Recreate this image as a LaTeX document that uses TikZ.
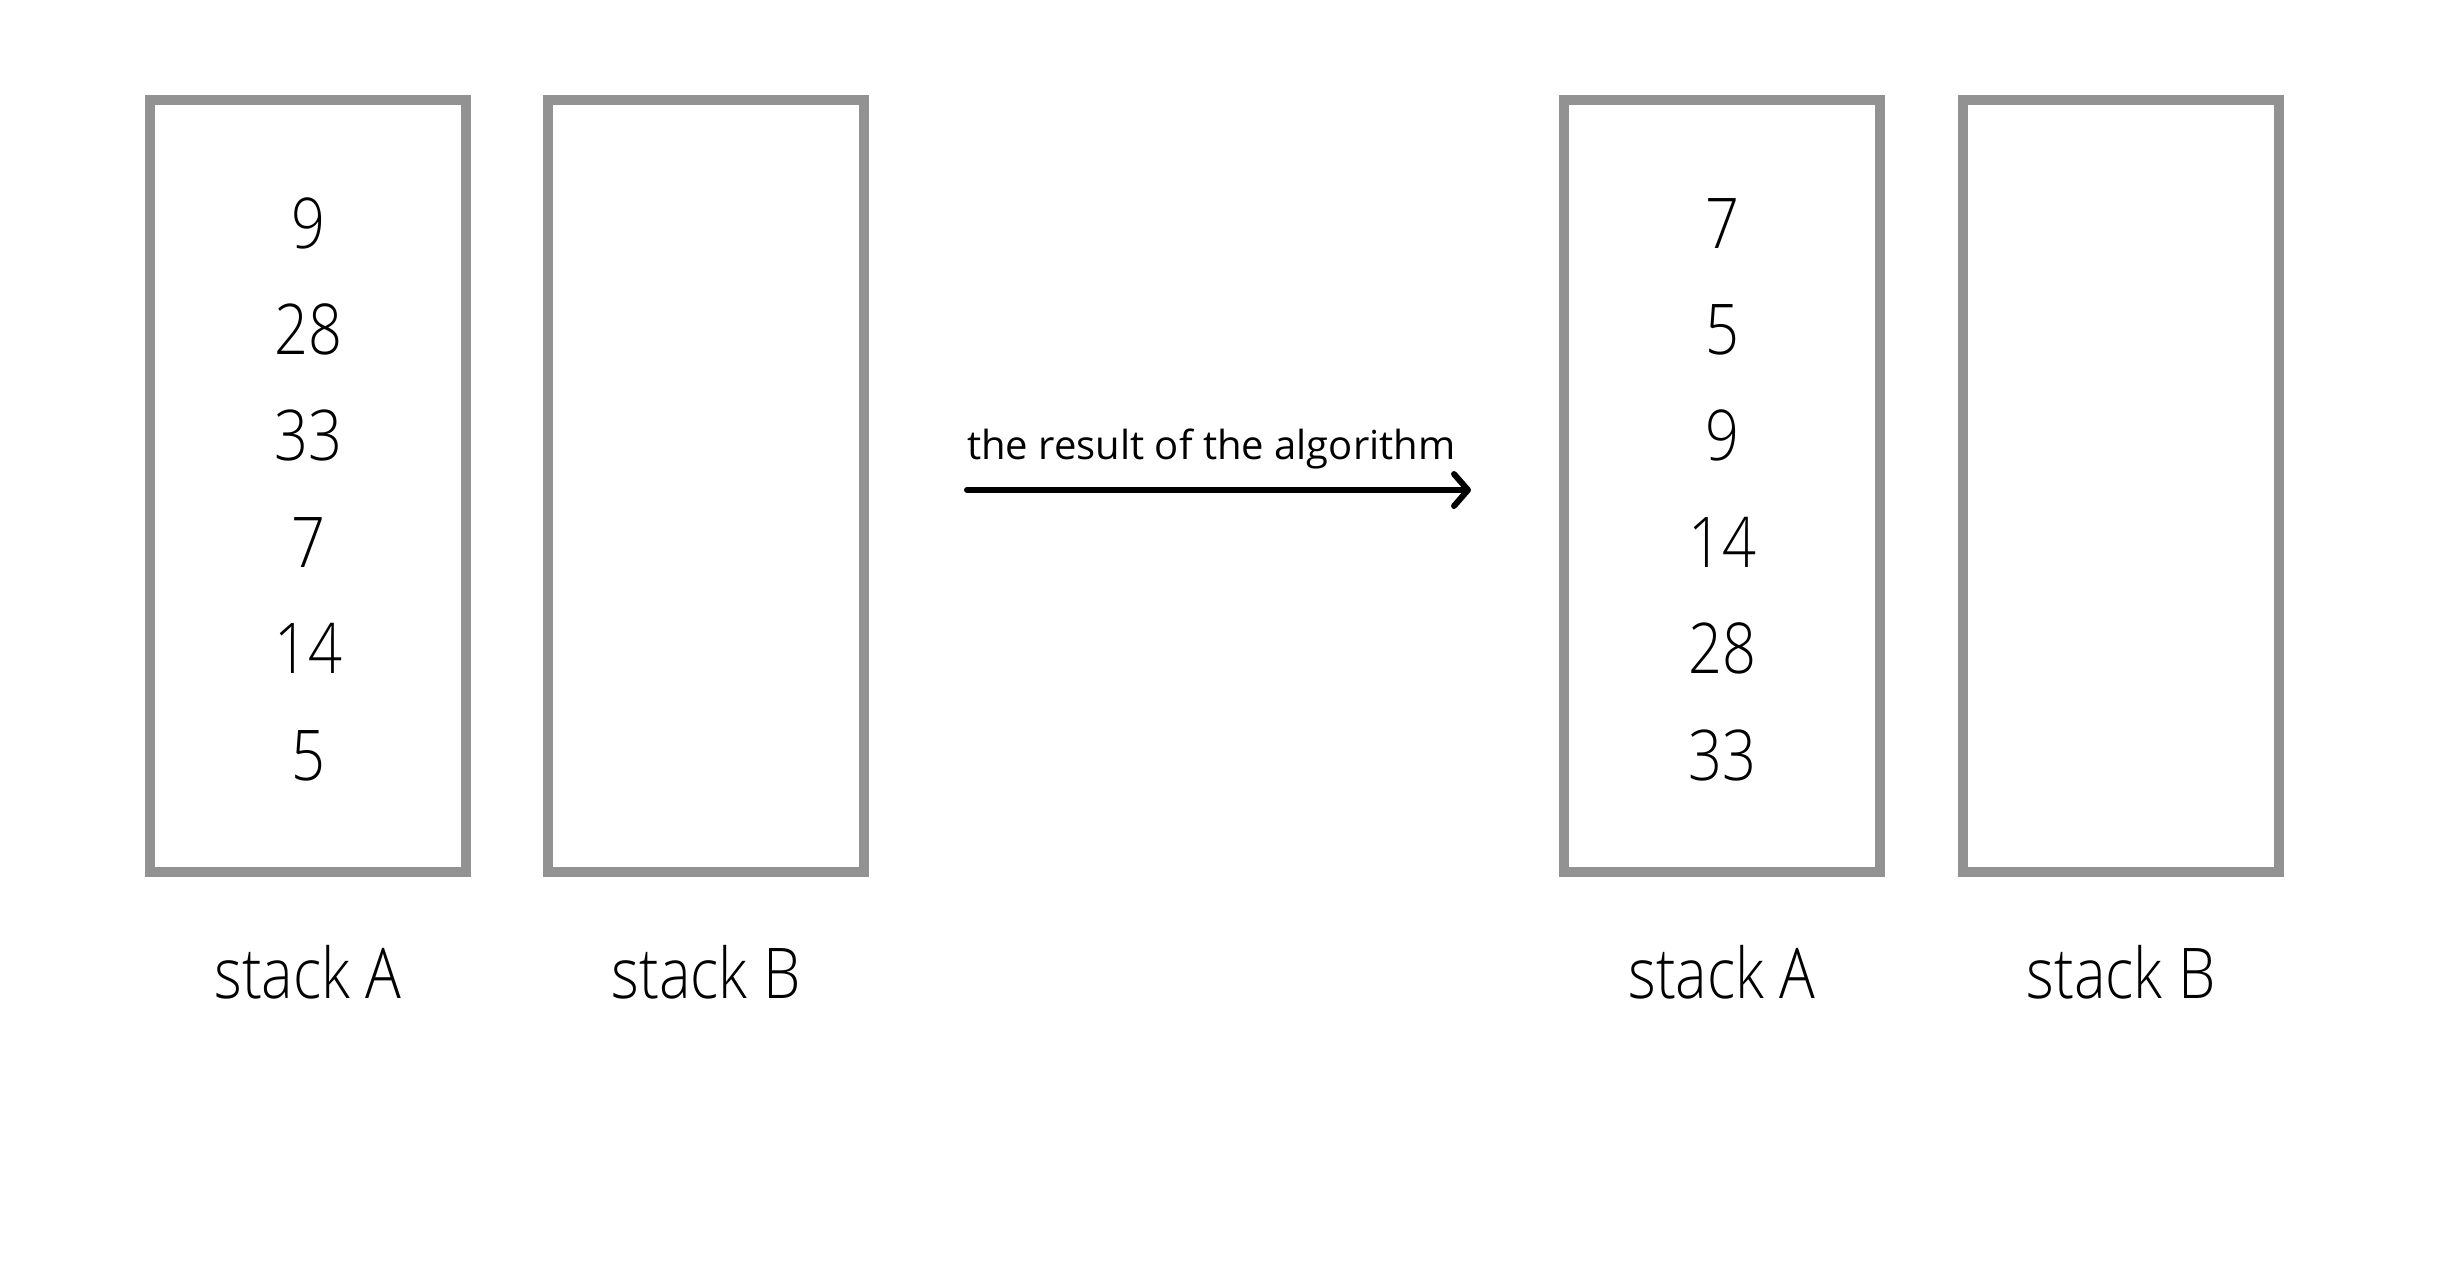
\documentclass[tikz,border=0pt]{standalone}
\usepackage{fontspec}
\setmainfont{Open Sans}
\newfontfamily\lightfont{Open Sans Light}[FakeStretch=0.85]
\usetikzlibrary{arrows.meta}
\definecolor{boxgray}{HTML}{929292}
\tikzset{
  stackbox/.style={draw=boxgray, line width=10pt, minimum width=316pt, minimum height=772pt, inner sep=0pt},
  num/.style={anchor=base, font=\lightfont\fontsize{70}{80}\selectfont, inner sep=0pt},
  lbl/.style={anchor=base, font=\lightfont\fontsize{70}{80}\selectfont, inner sep=0pt},
  arrowlbl/.style={anchor=base west, font=\fontsize{40}{48}\selectfont, inner sep=0pt},
}
\begin{document}
\begin{tikzpicture}[x=1pt,y=1pt]
\useasboundingbox (0,0) rectangle (2446,-1286);
% boxes
\node[stackbox] (la) at (308,-486) {};
\node[stackbox] (lb) at (706,-486) {};
\node[stackbox] (ra) at (1722,-486) {};
\node[stackbox] (rb) at (2121,-486) {};
% left numbers
\node[num] (l1) at (308,-248) {9};
\node[num] (l2) at (308,-354.4) {28};
\node[num] (l3) at (308,-460.8) {33};
\node[num] (l4) at (308,-567.2) {7};
\node[num] (l5) at (308,-673.6) {14};
\node[num] (l6) at (308,-780) {5};
% right numbers
\node[num] (r1) at (1722,-248) {7};
\node[num] (r2) at (1722,-354.4) {5};
\node[num] (r3) at (1722,-460.8) {9};
\node[num] (r4) at (1722,-567.2) {14};
\node[num] (r5) at (1722,-673.6) {28};
\node[num] (r6) at (1722,-780) {33};
% labels
\node[lbl] (tla) at (308,-998) {stack A};
\node[lbl] (tlb) at (706,-998) {stack B};
\node[lbl] (tra) at (1722,-998) {stack A};
\node[lbl] (trb) at (2121,-998) {stack B};
% arrow
\coordinate (as) at (967,-490);
\coordinate (ae) at (1471,-490);
\node[arrowlbl] (alg) at (967,-459) {the result of the algorithm};
\draw[line width=6pt, line cap=round, -{Straight Barb[length=14pt,width=32pt,line cap=round,line join=round]}] (as) -- (ae);
\end{tikzpicture}
\end{document}
